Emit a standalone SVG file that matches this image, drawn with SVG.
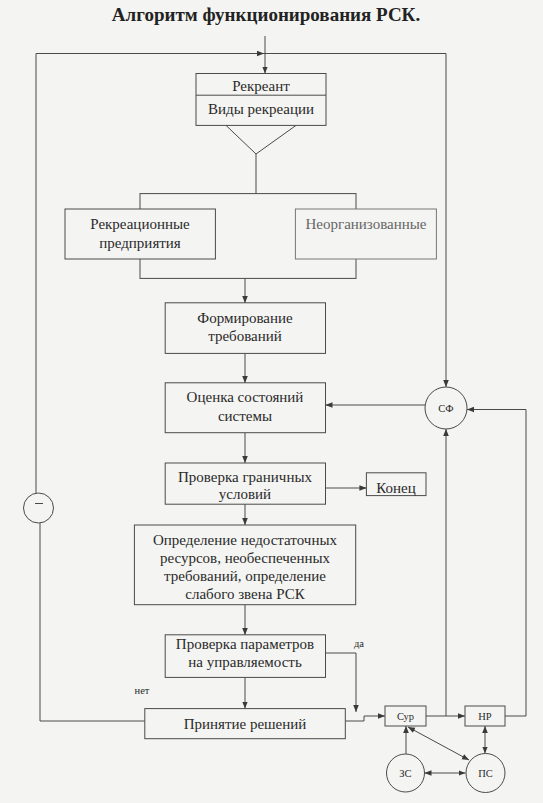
<svg xmlns="http://www.w3.org/2000/svg" width="543" height="803" viewBox="0 0 543 803">
<defs>
<style>
.bg{fill:#f4f4f2}
.box{fill:#f4f4f2;stroke:#4a4a4a;stroke-width:1}
.ln{fill:none;stroke:#4a4a4a;stroke-width:1}
.t{font-size:15px;fill:#2a2a2a;text-anchor:middle}
.s{font-size:10.5px;fill:#2a2a2a;text-anchor:middle}
.title{font-size:19px;font-weight:bold;fill:#222;text-anchor:middle}
</style>
<marker id="ar" viewBox="0 0 10 10" refX="10" refY="5" markerWidth="7" markerHeight="7" orient="auto-start-reverse" markerUnits="userSpaceOnUse">
<path d="M0,1 L10,5 L0,9 Z" fill="#3a3a3a"/>
</marker>
</defs>
<rect class="bg" x="0" y="0" width="543" height="803"/>
<g font-family="'Liberation Serif', 'DejaVu Serif', serif">
<text class="title" x="266" y="21">Алгоритм функционирования РСК.</text>

<g id="connectors">
<line class="ln" x1="265" y1="36" x2="265" y2="73.5" marker-end="url(#ar)"/>
<path class="ln" d="M36,493 V53.5 H264" marker-end="url(#ar)"/>
<path class="ln" d="M264,53.5 H446 V387" marker-end="url(#ar)"/>
<polyline class="ln" points="226,125.4 256,154 296,125.4"/>
<line class="ln" x1="256" y1="154" x2="256" y2="193.6"/>
<rect class="ln" x="140" y="193.6" width="216" height="84.8"/>
<line class="ln" x1="245" y1="278.4" x2="245" y2="303" marker-end="url(#ar)"/>
<line class="ln" x1="245" y1="353.4" x2="245" y2="383" marker-end="url(#ar)"/>
<line class="ln" x1="245" y1="433" x2="245" y2="463" marker-end="url(#ar)"/>
<line class="ln" x1="245" y1="504" x2="245" y2="525" marker-end="url(#ar)"/>
<line class="ln" x1="245" y1="605" x2="245" y2="635" marker-end="url(#ar)"/>
<line class="ln" x1="245" y1="677" x2="245" y2="708.6" marker-end="url(#ar)"/>
<line class="ln" x1="325.5" y1="488" x2="366.4" y2="488" marker-end="url(#ar)"/>
<line class="ln" x1="425" y1="405" x2="325.5" y2="405" marker-end="url(#ar)"/>
<path class="ln" d="M505,716 H526 V409.5 H467" marker-end="url(#ar)"/>
<line class="ln" x1="426" y1="716" x2="465" y2="716" marker-end="url(#ar)"/>
<line class="ln" x1="446" y1="716" x2="446" y2="429" marker-end="url(#ar)"/>
<path class="ln" d="M345.3,721 H364 V716 H385" marker-end="url(#ar)"/>
<path class="ln" d="M325.5,653 H356 V712" marker-end="url(#ar)"/>
<path class="ln" d="M144.8,721 H40 V523"/>
<line class="ln" x1="406" y1="754" x2="406" y2="726" marker-end="url(#ar)"/>
<line class="ln" x1="408" y1="727" x2="469" y2="760" marker-start="url(#ar)" marker-end="url(#ar)"/>
<line class="ln" x1="424.5" y1="773" x2="465.5" y2="773" marker-start="url(#ar)" marker-end="url(#ar)"/>
<line class="ln" x1="485" y1="726" x2="485" y2="753.5" marker-start="url(#ar)" marker-end="url(#ar)"/>
</g>

<g id="n-rekreant">
<rect class="box" x="196" y="73.5" width="130" height="51.9"/>
<line class="ln" x1="196" y1="95.2" x2="326" y2="95.2"/>
<text class="t" x="261" y="91">Рекреант</text>
<text class="t" x="261" y="113.5">Виды рекреации</text>
</g>
<g id="n-predpr">
<rect class="box" x="65" y="209" width="150.4" height="50"/>
<text class="t" x="140" y="229">Рекреационные</text>
<text class="t" x="140" y="247.5">предприятия</text>
</g>
<g id="n-neorg">
<rect class="box" x="295.4" y="209" width="141" height="50" style="stroke:#777"/>
<text class="t" x="366" y="229" style="fill:#666">Неорганизованные</text>
</g>
<g id="n-form">
<rect class="box" x="165.2" y="302.8" width="160.3" height="50.6"/>
<text class="t" x="245" y="322.5">Формирование</text>
<text class="t" x="245" y="341">требований</text>
</g>
<g id="n-ocenka">
<rect class="box" x="165.2" y="382.8" width="160.3" height="49.9"/>
<text class="t" x="245" y="402">Оценка состояний</text>
<text class="t" x="245" y="420.5">системы</text>
</g>
<g id="n-prov">
<rect class="box" x="165.2" y="463" width="160.3" height="41.2"/>
<text class="t" x="245" y="481.5">Проверка граничных</text>
<text class="t" x="245" y="498.5">условий</text>
</g>
<g id="n-konec">
<rect class="box" x="366.4" y="472.8" width="59.6" height="22.8"/>
<text class="t" x="396" y="492.5">Конец</text>
</g>
<g id="n-opred">
<rect class="box" x="134.4" y="525" width="221.3" height="79.7"/>
<text class="t" x="245" y="544.5">Определение недостаточных</text>
<text class="t" x="245" y="562.5">ресурсов, необеспеченных</text>
<text class="t" x="245" y="580.5">требований, определение</text>
<text class="t" x="245" y="598.5">слабого звена РСК</text>
</g>
<g id="n-provparam">
<rect class="box" x="165.2" y="634.8" width="160.3" height="42.6"/>
<text class="t" x="245" y="648.5">Проверка параметров</text>
<text class="t" x="245" y="666.5">на управляемость</text>
</g>
<g id="n-prinyatie">
<rect class="box" x="144.8" y="708.6" width="200.5" height="30.1"/>
<text class="t" x="245" y="728.5">Принятие решений</text>
</g>
<g id="n-sf">
<circle class="box" cx="446" cy="408" r="21"/>
<text class="s" x="446" y="412">СФ</text>
</g>
<g id="n-minus">
<circle class="box" cx="38.5" cy="508" r="15"/>
<line class="ln" x1="35" y1="503.5" x2="43" y2="503.5"/>
</g>
<g id="n-sur">
<rect class="box" x="385" y="706" width="41" height="20"/>
<text class="s" x="405.5" y="720">Сур</text>
</g>
<g id="n-nr">
<rect class="box" x="465" y="706" width="40" height="20"/>
<text class="s" x="485" y="720">НР</text>
</g>
<g id="n-zs">
<circle class="box" cx="405.5" cy="773" r="19"/>
<text class="s" x="405.5" y="777">ЗС</text>
</g>
<g id="n-ps">
<circle class="box" cx="485.5" cy="773" r="19.5"/>
<text class="s" x="485.5" y="777">ПС</text>
</g>
<text class="s" x="359" y="647">да</text>
<text class="s" x="142" y="694">нет</text>
</g>
</svg>
